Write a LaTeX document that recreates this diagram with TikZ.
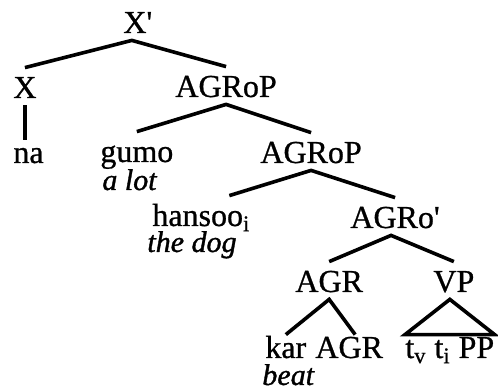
\documentclass[tikz,border=0pt]{standalone}
\usepackage{fontspec}
\setmainfont{Liberation Serif}
\usepackage{tikz}
\tikzset{
  cat/.style = {anchor=base west, inner xsep=0pt, inner ysep=3.5pt,
    text height=11.5pt, text depth=0pt,
    font=\fontsize{16}{19}\selectfont\addfontfeature{FakeBold=0.8}},
  leaf/.style = {cat, text height=8pt},
  gloss/.style = {cat, font=\fontsize{15}{18}\selectfont\itshape\addfontfeature{FakeBold=1.2}},
  branch/.style = {line width=1.8pt, line join=miter}
}

\begin{document}
\begin{tikzpicture}[x=0.5pt, y=-0.5pt]
\useasboundingbox (0,0) rectangle (498,389);
% labels, placed at their baselines
\node [cat] (xbar) at (123,33) {X\textquotesingle};
\node [cat] (x) at (13,98) {X};
\node [cat] (agrop) at (175,97) {AGRoP};
\node [leaf] (na) at (13,163) {na};
\node [cat] (gumo) at (100,162) {gumo};
\node [gloss] (alot) at (102,190) {a lot};
\node [cat] (agropp) at (260,163) {AGRoP};
\node [cat] (hansoo) at (152,226) {hansoo\textsubscript{i}};
\node [gloss] (thedog) at (147,252) {the dog};
\node [cat] (agrobar) at (350,228) {AGRo\textquotesingle};
\node [cat] (agr) at (295,292) {AGR};
\node [cat] (vp) at (433,292) {VP};
\node [leaf] (kar) at (265,358) {kar};
\node [leaf] (agrlow) at (315,358) {AGR};
\node [leaf] (traces) at (405,358) {t\textsubscript{v} t\textsubscript{i} PP};
\node [gloss] (beat) at (262,385) {beat};

% branches
\draw [branch] (x.north) -- ([xshift=-3pt]xbar.south) -- (agrop.north);
\draw [branch] (x.south) -- (x.south |- na.north);
\draw [branch] (gumo.north) -- (agrop.south) -- (agropp.north);
\draw [branch] ([xshift=14pt]hansoo.north) -- (agropp.south) -- (agrobar.north);
\draw [branch] (agr.north) -- ([xshift=-2pt]agrobar.south) -- (vp.north);
\draw [branch] (kar.north) -- (agr.south) -- ([xshift=3pt]agrlow.north);
\draw [branch] (traces.north west) -- ([xshift=-2pt]vp.south) -- (traces.north east) -- cycle;
\end{tikzpicture}
\end{document}
